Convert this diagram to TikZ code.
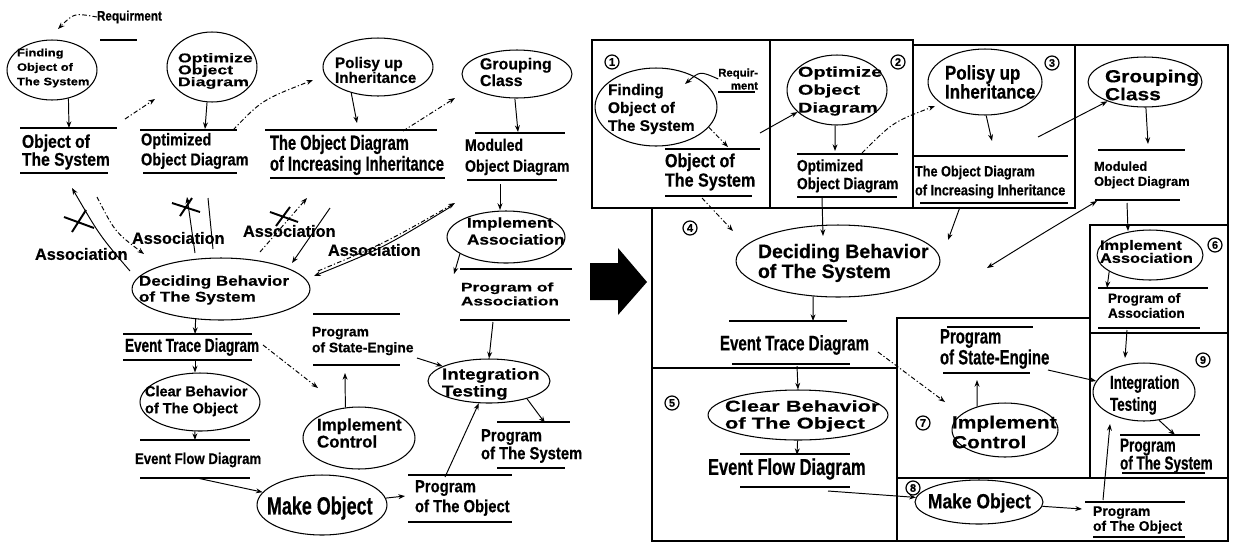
\documentclass[tikz,border=0pt]{standalone}
\usepackage{fontspec}
\setmainfont{Liberation Sans}
\newfontfamily\fnA[FakeStretch=0.72,BoldFeatures={FakeBold=0.5}]{Liberation Sans}
\newfontfamily\fnB[FakeStretch=0.85,BoldFeatures={FakeBold=0.5}]{Liberation Sans}
\newfontfamily\fplain[BoldFeatures={FakeBold=0.5}]{Liberation Sans}
\newfontfamily\fsemi[FakeStretch=1.2,BoldFeatures={FakeBold=0.5}]{Liberation Sans}
\newfontfamily\fwide[FakeStretch=1.4,BoldFeatures={FakeBold=0.5}]{Liberation Sans}
\usetikzlibrary{shapes.geometric,arrows.meta}
\newdimen\pxu \pxu=0.5669pt
\newcommand\fz[2]{\fontsize{#1\pxu}{#2\pxu}\selectfont}
\tikzset{
  lbl/.style={inner sep=0pt, outer sep=0pt, anchor=west, align=left},
  fA/.style 2 args={font={\fnA\bfseries\fz{#1}{#2}}},
  fB/.style 2 args={font={\fnB\bfseries\fz{#1}{#2}}},
  fP/.style 2 args={font={\fplain\bfseries\fz{#1}{#2}}},
  fS/.style 2 args={font={\fsemi\bfseries\fz{#1}{#2}}},
  fW/.style 2 args={font={\fwide\bfseries\fz{#1}{#2}}},
  ell/.style 2 args={draw, ellipse, inner sep=0pt, minimum width={#1*0.04cm}, minimum height={#2*0.04cm}, line width=0.6pt},
  arr/.style={line width=0.55pt, -{Stealth[length=3.8pt,width=2.8pt]}},
  darr/.style={arr, dash pattern=on 2.6pt off 1.3pt on 0.7pt off 1.3pt},
  thin/.style={line width=0.55pt},
  ds/.style={line width=0.75pt},
  wall/.style={line width=1.5pt, line cap=rect},
  xmark/.style={line width=1.1pt},
  badge/.style={draw, circle, inner sep=0pt, minimum size={14*0.02cm}, line width=0.7pt, font={\fplain\bfseries\fz{11}{11}}},
}
\begin{document}
\begin{tikzpicture}[x=0.02cm,y=-0.02cm]
\fill[white] (0,0) rectangle (1236,545);
\useasboundingbox (0,0) rectangle (1236,545);

%% ================= left: data-flow sketch =================
% requirement
\node[lbl,fB={13.8}{14}] (lreq) at (97,17) {Requirment};
\draw[ds] (100,40) -- (137,40);
\coordinate (lreqE) at (58,29);
\draw[darr] (lreq.west) .. controls (74,13) .. (lreqE);

% finding objects
\node[ell={45}{30}] (lfind) at (52,70) {};
\node[lbl,fS={10.8}{14.5}] (lfindT) at (17,68) {Finding\\Object of\\The System};
\coordinate (lobjN) at (69,128);
\draw[arr] (lfind.-60) -- (lobjN);
\draw[ds] (20,128) -- (117,128) (20,173) -- (108,173);
\node[lbl,fB={18.5}{18}] (lobj) at (22,152) {Object of\\The System};
\coordinate (lq1) at (125,119); \coordinate (lq2) at (155,99);
\draw[darr] (lq1) -- (lq2);

% optimize
\node[ell={45}{35}] (lopt) at (212,67) {};
\node[lbl,fW={12.7}{12}] (loptT) at (178,71) {Optimize\\Object\\Diagram};
\coordinate (loptN) at (205,129);
\draw[arr] (lopt.-98) -- (loptN);
\draw[ds] (140,130) -- (237,130) (143,173) -- (237,173);
\node[lbl,fB={17.2}{20}] (loptd) at (141,151) {Optimized\\Object Diagram};
\coordinate (lq3) at (233,130); \coordinate (lq4) at (313,80);
\draw[darr] (lq3) .. controls (262,100) .. (lq4);

% inheritance
\node[ell={55}{29}] (lpol) at (378,67) {};
\node[lbl,fP={15.3}{15}] (lpolT) at (335,70) {Polisy up\\Inheritance};
\coordinate (linhN) at (357,123);
\draw[arr] (lpol.-136) -- (linhN);
\draw[ds] (265,130) -- (437,130) (270,178) -- (445,178);
\node[lbl,fA={20.5}{21}] (linh) at (270,155) {The Object Diagram\\of Increasing Inheritance};
\coordinate (lq6) at (403,131); \coordinate (lq7) at (455,98);
\draw[darr] (lq6) -- (lq7);

% grouping
\node[ell={55}{24}] (lgrp) at (517,74) {};
\node[lbl,fP={16}{14}] (lgrpT) at (480,72) {Grouping\\Class};
\coordinate (lmodN) at (518,132);
\draw[arr] (lgrp.-95) -- (lmodN);
\draw[ds] (475,133) -- (565,133) (467,180) -- (557,180);
\node[lbl,fB={16.7}{21}] (lmod) at (465,157) {Moduled\\Object Diagram};
\coordinate (lmodS) at (500,184); \coordinate (limpaN) at (500,210);
\draw[arr] (lmodS) -- (limpaN);

% implement association
\node[ell={59}{26}] (limpa) at (506,237) {};
\node[lbl,fS={14.4}{17}] (limpaT) at (467,231) {Implement\\Association};
\coordinate (lpaN) at (454,274);
\draw[arr] (limpa.-160) -- (lpaN);
\draw[ds] (460,269) -- (572,269) (460,320) -- (570,320);
\node[lbl,fW={12.4}{14}] (lpa) at (461,294) {Program of\\Association};
\coordinate (lpaS) at (493,322);

% integration
\node[ell={61}{22}] (linteg) at (489,381) {};
\node[lbl,fS={15.8}{17}] (lintegT) at (442,384) {Integration\\Testing};
\draw[arr] (lpaS) -- (linteg.north);
\coordinate (lpsN) at (545,423);
\draw[arr] (linteg.-25) -- (lpsN);
\draw[ds] (497,422) -- (570,422) (497,468) -- (565,468);
\node[lbl,fB={17.5}{18}] (lps) at (481,446) {Program\\of The System};

% program of the object
\draw[ds] (408,475) -- (512,475) (408,522) -- (512,522);
\node[lbl,fB={17.5}{20}] (lpob) at (415,498) {Program\\of The Object};
\coordinate (lpobN) at (445,477);
\draw[arr] (lpobN) -- (linteg);

% make object
\node[ell={65}{30}] (lmake) at (322,505) {};
\node[lbl,fA={25}{25}] (lmakeT) at (267,508) {Make Object};
\coordinate (lpobW) at (405,496);
\draw[arr] (lmake) -- (lpobW);

% event flow
\draw[ds] (140,440) -- (250,440) (140,478) -- (250,478);
\node[lbl,fB={15.6}{16}] (lefd) at (135,460) {Event Flow Diagram};
\coordinate (lefdS) at (197,478);
\draw[arr] (lefdS) -- (lmake);

% clear behavior
\node[ell={60}{29}] (lclear) at (200,402) {};
\node[lbl,fP={14.6}{17}] (lclearT) at (145,401) {Clear Behavior\\of The Object};
\coordinate (lefdN) at (195,440);
\draw[arr] (lclear.-100) -- (lefdN);

% event trace
\draw[ds] (123,334) -- (252,334) (123,360) -- (252,360);
\node[lbl,fA={18.9}{19}] (letd) at (125,347) {Event Trace Diagram};
\coordinate (letdS) at (195,360);
\draw[arr] (letdS) -- (lclear.north -| letdS);

% deciding behavior
\node[ell={89}{31}] (ldec) at (221,289) {};
\node[lbl,fS={14.3}{16}] (ldecT) at (139,290) {Deciding Behavior\\of The System};
\coordinate (letdN) at (195,334);
\draw[arr] (ldec.-130) -- (letdN);
\coordinate (lq9) at (263,345); \coordinate (lq10) at (318,388);
\draw[darr] (lq9) -- (lq10);

% implement control
\node[ell={56}{31}] (limpc) at (359,438) {};
\node[lbl,fP={17}{17}] (limpcT) at (317,433) {Implement\\Control};
\coordinate (lseS) at (345,373);
\draw[arr] (limpc.114) -- (lseS);
\draw[ds] (313,314) -- (400,314) (313,365) -- (400,365);
\node[lbl,fP={13.9}{16}] (lse) at (312,341) {Program\\of State-Engine};
\coordinate (lseE) at (417,358);
\draw[arr] (lseE) -- (linteg);

% associations
\coordinate (lk1a) at (130,271); \coordinate (lk1b) at (72,188);
\draw[arr] (lk1a) .. controls (100,236) .. (lk1b);
\draw[xmark] (64,217) -- (94,228) (72,232) -- (86,210);
\coordinate (lk1c) at (97,197); \coordinate (lk1d) at (144,254);
\draw[darr] (lk1c) .. controls (115,232) .. (lk1d);
\node[lbl,fP={16.4}{16}] (las1) at (35,254) {Association};

\coordinate (lk2a) at (195,253); \coordinate (lk2b) at (187,197);
\draw[arr] (lk2a) -- (lk2b);
\draw[xmark] (172,203) -- (200,212) (180,216) -- (192,198);
\coordinate (lk2c) at (208,198); \coordinate (lk2d) at (213,249);
\draw[thin] (lk2c) -- (lk2d);
\node[lbl,fP={16.4}{16}] (las2) at (132,238) {Association};

\coordinate (lk3a) at (260,252); \coordinate (lk3b) at (307,198);
\draw[darr] (lk3a) -- (lk3b);
\draw[xmark] (270,212) -- (298,222) (276,226) -- (290,207);
\coordinate (lk3c) at (330,208); \coordinate (lk3d) at (292,263);
\draw[arr] (lk3c) -- (lk3d);
\node[lbl,fP={16.4}{16}] (las3) at (243,231) {Association};

\coordinate (lk4a) at (318,271); \coordinate (lk4b) at (455,203);
\draw[darr] (lk4a) .. controls (385,243) .. (lk4b);
\coordinate (lk4c) at (452,206); \coordinate (lk4d) at (314,276);
\draw[arr] (lk4c) .. controls (383,248) .. (lk4d);
\node[lbl,fP={16.4}{16}] (las4) at (328,250) {Association};

% transition arrow
\fill (590,263) -- (618,263) -- (618,248) -- (647,282) -- (618,315) -- (618,300) -- (590,300) -- cycle;

%% ================= right: partitioned view =================
\draw[wall] (592,40) rectangle (770,208);
\draw[wall] (770,40) -- (913,40) -- (913,208);
\draw[wall] (913,45) -- (1228,45) -- (1228,541) -- (652,541) -- (652,208) -- (1075,208);
\draw[wall] (1075,45) -- (1075,208);
\draw[wall] (652,368) -- (897,368);
\draw[wall] (897,318) -- (897,541);
\draw[wall] (897,318) -- (1090,318);
\draw[wall] (1090,225) -- (1228,225);
\draw[wall] (1090,225) -- (1090,478);
\draw[wall] (1090,333) -- (1228,333);
\draw[wall] (897,478) -- (1228,478);

% region 1
\node[badge] (n1) at (612,62) {1};
\node[ell={61}{39}] (rfind) at (656,107) {};
\node[lbl,fP={15.5}{18}] (rfindT) at (608,109) {Finding\\Object of\\The System};
\node[lbl,fP={11.4}{13},anchor=east,align=right] (rreq) at (758,79) {Requir-\\ment};
\draw[ds] (718,92) -- (755,92);
\coordinate (rreqE) at (685,84);
\draw[arr] (rreq.west) .. controls (700,71) .. (rreqE);
\coordinate (robjN) at (728,147);
\draw[darr] (rfind.-21) -- (robjN);
\draw[ds] (665,149) -- (760,149) (665,196) -- (752,196);
\node[lbl,fB={19}{17}] (robj) at (665,172) {Object of\\The System};
\coordinate (robjE) at (760,133);
\coordinate (robjS) at (702,198); \coordinate (rdecNW) at (733,231);
\draw[darr] (robjS) -- (rdecNW);

% region 2
\node[badge] (n2) at (898,62) {2};
\node[ell={50}{35}] (ropt) at (837,90) {};
\node[lbl,fW={14.3}{18}] (roptT) at (798,91) {Optimize\\Object\\Diagram};
\draw[arr] (robjE) -- (ropt);
\coordinate (ropdN) at (835,151);
\draw[arr] (ropt.-93) -- (ropdN);
\draw[ds] (797,154) -- (898,154) (797,197) -- (897,197);
\node[lbl,fB={16.2}{18}] (ropd) at (797,176) {Optimized\\Object Diagram};
\coordinate (rq3) at (862,153); \coordinate (rq4) at (935,106);
\draw[darr] (rq3) .. controls (893,122) .. (rq4);
\coordinate (ropdS) at (822,198); \coordinate (rdecN) at (823,236);
\draw[arr] (ropdS) -- (rdecN);

% region 3
\node[badge] (n3) at (1052,63) {3};
\node[ell={57}{33}] (rpol) at (985,82) {};
\node[lbl,fB={20}{19}] (rpolT) at (945,82) {Polisy up\\Inheritance};
\coordinate (rinhN) at (992,141);
\draw[arr] (rpol.-88) -- (rinhN);
\draw[ds] (913,156) -- (1068,156) (920,203) -- (1068,203);
\node[lbl,fB={15}{19}] (rinh) at (915,182) {The Object Diagram\\of Increasing Inheritance};
\coordinate (rinhE) at (1038,137);
\coordinate (rinhS) at (960,207); \coordinate (rdecNE) at (948,240);
\draw[arr] (rinhS) -- (rdecNE);

% grouping
\node[ell={57}{25}] (rgrp) at (1145,82) {};
\node[lbl,fS={17.5}{18}] (rgrpT) at (1105,85) {Grouping\\Class};
\draw[arr] (rinhE) -- (rgrp);
\coordinate (rmodN) at (1148,144);
\draw[arr] (rgrp.-88) -- (rmodN);
\draw[ds] (1098,150) -- (1185,150) (1095,200) -- (1180,200);
\node[lbl,fP={13}{15}] (rmod) at (1094,175) {Moduled\\Object Diagram};
\coordinate (rmodS) at (1127,203); \coordinate (rimpaN) at (1128,231);
\draw[arr] (rmodS) -- (rimpaN);
\coordinate (rmodW) at (1097,201); \coordinate (rdecE) at (987,268);
\draw[line width=0.55pt, {Stealth[length=3.8pt,width=2.8pt]}-{Stealth[length=3.8pt,width=2.8pt]}] (rmodW) .. controls (1045,232) .. (rdecE);

% region 4
\node[badge] (n4) at (690,228) {4};
\node[ell={102}{36}] (rdec) at (838,261) {};
\node[lbl,fP={19.5}{20}] (rdecT) at (758,263) {Deciding Behavior\\of The System};
\coordinate (retdN) at (813,321);
\draw[arr] (rdec.-125) -- (retdN);
\draw[ds] (729,321) -- (847,321) (732,364) -- (850,364);
\node[lbl,fA={21}{21}] (retd) at (720,345) {Event Trace Diagram};
\coordinate (retdS) at (797,366);
\coordinate (retdE) at (878,352); \coordinate (rimpcNW) at (945,402);
\draw[darr] (retdE) -- (rimpcNW);

% region 5
\node[badge] (n5) at (672,403) {5};
\node[ell={90}{25}] (rclear) at (798,415) {};
\node[lbl,fW={15.7}{17}] (rclearT) at (725,416) {Clear Behavior\\of The Object};
\draw[arr] (retdS) -- (rclear.north);
\coordinate (refdN) at (797,455);
\draw[arr] (rclear.-91) -- (refdN);
\draw[ds] (740,454) -- (850,454) (740,487) -- (850,487);
\node[lbl,fA={23}{23}] (refd) at (708,469) {Event Flow Diagram};
\coordinate (refdS) at (828,491);

% region 7
\node[badge] (n7) at (923,423) {7};
\draw[ds] (947,327) -- (1033,327) (943,373) -- (1030,373);
\node[lbl,fA={20.8}{21}] (rse) at (940,349) {Program\\of State-Engine};
\coordinate (rseE) at (1048,370);
\node[ell={53}{27}] (rimpc) at (1005,430) {};
\node[lbl,fS={17.5}{20}] (rimpcT) at (952,432) {Implement\\Control};
\coordinate (rseS) at (977,380);
\draw[arr] (rimpc.140) -- (rseS);

% region 6
\node[badge] (n6) at (1215,245) {6};
\node[ell={53}{25}] (rimpa) at (1150,255) {};
\node[lbl,fS={13.7}{13}] (rimpaT) at (1100,251.5) {Implement\\Association};
\coordinate (rpaN) at (1107,288);
\draw[arr] (rimpa.-158) -- (rpaN);
\draw[ds] (1098,288) -- (1208,288) (1098,328) -- (1200,328);
\node[lbl,fP={13.6}{15}] (rpa) at (1108,305.5) {Program of\\Association};
\coordinate (rpaS) at (1127,330); \coordinate (rintegN) at (1125,358);
\draw[arr] (rpaS) -- (rintegN);

% region 9
\node[badge] (n9) at (1203,360) {9};
\node[ell={51}{29}] (rinteg) at (1144,392) {};
\node[lbl,fA={18.75}{22}] (rintegT) at (1110,395) {Integration\\Testing};
\draw[arr] (rseE) -- (rinteg);
\coordinate (rpsN) at (1175,435);
\draw[arr] (rinteg.-62) -- (rpsN);
\draw[ds] (1120,435) -- (1200,435) (1122,473) -- (1205,473);
\node[lbl,fA={18.9}{18}] (rps) at (1120,456) {Program\\of The System};

% region 8
\node[badge] (n8) at (913,488) {8};
\node[ell={64}{22}] (rmake) at (979,502) {};
\node[lbl,fB={20.6}{21}] (rmakeT) at (928,503) {Make Object};
\draw[arr] (refdS) -- (rmake);
\coordinate (rpobW) at (1082,509);
\draw[arr] (rmake) -- (rpobW);
\draw[ds] (1085,502) -- (1185,502) (1093,537) -- (1185,537);
\node[lbl,fP={14}{15}] (rpob) at (1093,520) {Program\\of The Object};
\coordinate (rpobN) at (1103,500); \coordinate (rintegS) at (1110,424);
\draw[arr] (rpobN) -- (rintegS);
\end{tikzpicture}
\end{document}
